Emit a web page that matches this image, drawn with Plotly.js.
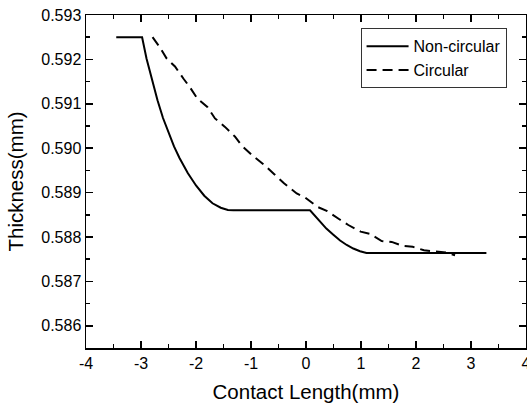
<!DOCTYPE html>
<html>
<head>
<meta charset="utf-8">
<script src="https://cdn.plot.ly/plotly-3.0.1.min.js"></script>
<style>html,body{margin:0;padding:0;background:#fff;}#chart{width:527px;height:405px;}</style>
</head>
<body>
<div id="chart"></div>
<script>
// Non-circular roll profile
const nonCircX = [-3.45, -2.98, -2.90, -2.80, -2.70, -2.60, -2.50, -2.40, -2.30, -2.15, -2.00, -1.85, -1.70, -1.55, -1.42, -1.32, 0.073, 0.16, 0.255, 0.37, 0.497, 0.62, 0.74, 0.86, 0.982, 1.1, 3.28];
const nonCircY = [0.5925, 0.5925, 0.59202, 0.59152, 0.59108, 0.59068, 0.59034, 0.59004, 0.58978, 0.58944, 0.58916, 0.58893, 0.58876, 0.58866, 0.58861, 0.5886, 0.5886, 0.58848, 0.58835, 0.58819, 0.58805, 0.58792, 0.58782, 0.58774, 0.58768, 0.58764, 0.58764];
// Circular roll profile
const circX = [-2.79, -2.667, -2.533, -2.382, -2.23, -2.109, -1.976, -1.794, -1.655, -1.473, -1.29, -1.17, -0.958, -0.776, -0.582, -0.4, -0.169, -0.018, 0.206, 0.376, 0.606, 0.77, 0.994, 1.164, 1.376, 1.558, 1.758, 1.94, 2.145, 2.327, 2.545, 2.71];
const circY = [0.5925, 0.59229, 0.59202, 0.59184, 0.59157, 0.59137, 0.59112, 0.59093, 0.59067, 0.59048, 0.59026, 0.59006, 0.58982, 0.58964, 0.58942, 0.58921, 0.58898, 0.58889, 0.58868, 0.58859, 0.5884, 0.58827, 0.58812, 0.58807, 0.58791, 0.58789, 0.5878, 0.58778, 0.5877, 0.58768, 0.58765, 0.58759];
const seriesNames = ["Non-circular", "Circular"];
// Axis ticks
const xTickVals = [-4, -3, -2, -1, 0, 1, 2, 3, 4];
const xTickText = ["-4", "-3", "-2", "-1", "0", "1", "2", "3", "4"];
const yTickVals = [0.586, 0.587, 0.588, 0.589, 0.590, 0.591, 0.592, 0.593];
const yTickText = ["0.586", "0.587", "0.588", "0.589", "0.590", "0.591", "0.592", "0.593"];

const font = "Arial, 'Liberation Sans', sans-serif";
const traces = [
  {x: nonCircX, y: nonCircY, name: seriesNames[0], mode: "lines",
   line: {color: "#000", width: 2, dash: "solid"}},
  {x: circX, y: circY, name: seriesNames[1], mode: "lines",
   line: {color: "#000", width: 2, dash: "10px,6px"}}
];
const axisCommon = {
  showgrid: false, zeroline: false, showline: true, linecolor: "#000", linewidth: 1.5,
  mirror: "ticks", ticks: "inside", ticklen: 7, tickwidth: 1.5, tickcolor: "#000",
  ticklabeloverflow: "allow",
  tickfont: {family: font, size: 16, color: "#000"}
};
const layout = {
  width: 527, height: 405,
  margin: {l: 86, r: 1, t: 15, b: 57},
  paper_bgcolor: "#fff", plot_bgcolor: "#fff",
  font: {family: font, color: "#000"},
  showlegend: true,
  legend: {x: 0.624, y: 0.96, xanchor: "left", yanchor: "top",
    bordercolor: "#333", borderwidth: 1, bgcolor: "#fff", itemwidth: 42,
    font: {family: font, size: 16, color: "#000"}, tracegroupgap: 0},
  xaxis: Object.assign({}, axisCommon, {
    range: [-4, 4], tickmode: "array", tickvals: xTickVals, ticktext: xTickText,
    minor: {dtick: 0.5, tick0: 0, ticks: "inside", ticklen: 4, tickwidth: 1.5, tickcolor: "#000"},
    title: {text: "Contact Length(mm)", font: {family: font, size: 20.5, color: "#000"}, standoff: 14}
  }),
  yaxis: Object.assign({}, axisCommon, {
    range: [0.5855, 0.593], tickmode: "array", tickvals: yTickVals, ticktext: yTickText,
    minor: {dtick: 0.0005, tick0: 0.586, ticks: "inside", ticklen: 4, tickwidth: 1.5, tickcolor: "#000"},
    title: {text: "Thickness(mm)", font: {family: font, size: 20.5, color: "#000"}, standoff: 12}
  })
};
Plotly.newPlot("chart", traces, layout, {displayModeBar: false, staticPlot: true});
</script>
</body>
</html>
